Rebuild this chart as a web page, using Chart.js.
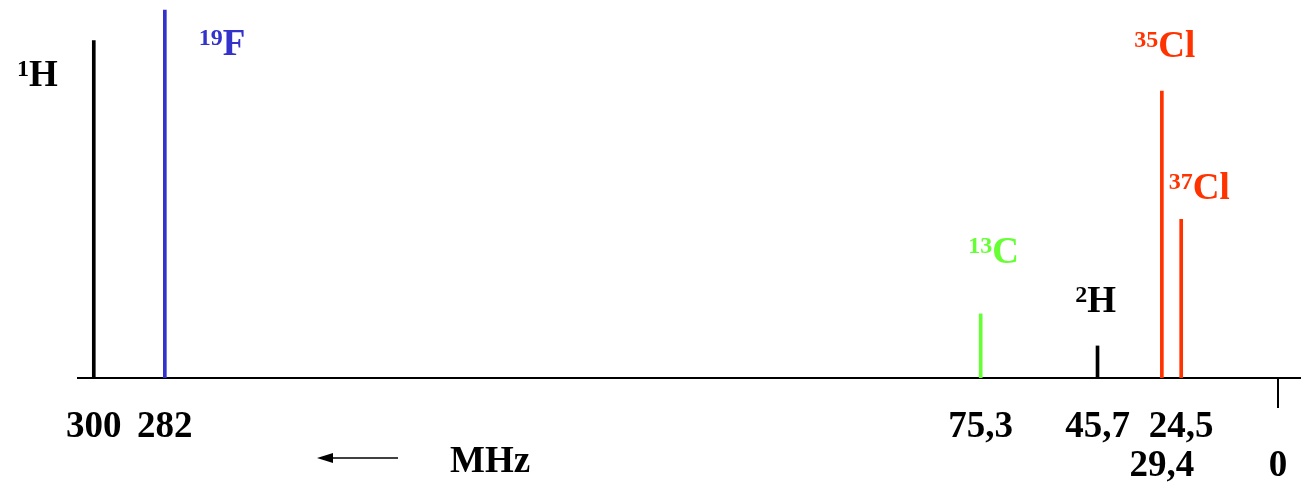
<!DOCTYPE html>
<html>
<head>
<meta charset="utf-8">
<title>NMR frequencies</title>
<script src="https://cdn.jsdelivr.net/npm/chart.js@4"></script>
<style>
    html, body { margin: 0; padding: 0; background: #fff; }
    #wrap { width: 1302px; height: 496px; position: relative; }
</style>
</head>
<body>
<div id="wrap"><canvas id="nmrChart"></canvas></div>
<script>
// Nuclei (mass number + element symbol)
const massNumbers = ['1', '19', '13', '2', '35', '37'];
const symbols = ['H', 'F', 'C', 'H', 'Cl', 'Cl'];
// Resonance frequency in MHz (for a 300 MHz 1H spectrometer)
const frequencies = [300, 282, 75.3, 45.7, 29.4, 24.5];
// Relative line height as drawn
const relHeights = [100, 109, 19, 9.5, 85, 47];
// Tick labels on the axis
const tickValues = [300, 282, 75.3, 45.7, 24.5, 29.4, 0];
const lowerTicks = [29.4, 0];

// Colours for each nucleus
const nucleusColors = ['#000000', '#3333cc', '#66ff33', '#000000', '#ff3300', '#ff3300'];
// Label placement relative to the top of each line: [dx, dy, align]
const labelPlacement = [
    [-36, 45, 'right'],
    [34, 45, 'left'],
    [13, -51, 'center'],
    [-2, -34, 'center'],
    [3, -34, 'center'],
    [18, -20, 'center']
];

const SERIF = '"Liberation Serif", "Times New Roman", serif';

function drawIsotope(ctx, mass, sym, x, y, align, color) {
    const supFont = 'bold 24px ' + SERIF;
    const mainFont = 'bold 37px ' + SERIF;
    ctx.font = supFont;
    const wSup = ctx.measureText(mass).width;
    ctx.font = mainFont;
    const wMain = ctx.measureText(sym).width;
    const total = wSup + wMain;
    let left = x;
    if (align === 'center') left = x - total / 2;
    if (align === 'right') left = x - total;
    ctx.fillStyle = color;
    ctx.textBaseline = 'alphabetic';
    ctx.textAlign = 'left';
    ctx.font = supFont;
    ctx.fillText(mass, left, y - 10);
    ctx.font = mainFont;
    ctx.fillText(sym, left + wSup, y);
}

// Draws nucleus labels, the arrow and the MHz unit
const annotationPlugin = {
    id: 'nmrAnnotations',
    afterDatasetsDraw(chart) {
        const ctx = chart.ctx;
        const meta = chart.getDatasetMeta(0);
        ctx.save();
        meta.data.forEach((bar, i) => {
            const p = labelPlacement[i];
            drawIsotope(ctx, massNumbers[i], symbols[i], bar.x + p[0], bar.y + p[1], p[2], nucleusColors[i]);
        });

        // arrow pointing to higher frequency
        const area = chart.chartArea;
        const ay = area.bottom + 80;
        ctx.strokeStyle = '#000';
        ctx.fillStyle = '#000';
        ctx.lineWidth = 1.5;
        ctx.beginPath();
        ctx.moveTo(330, ay);
        ctx.lineTo(398, ay);
        ctx.stroke();
        ctx.beginPath();
        ctx.moveTo(317, ay);
        ctx.lineTo(333, ay - 5);
        ctx.lineTo(333, ay + 5);
        ctx.closePath();
        ctx.fill();

        ctx.font = 'bold 37px ' + SERIF;
        ctx.textAlign = 'left';
        ctx.textBaseline = 'alphabetic';
        ctx.fillText('MHz', 450, area.bottom + 94);
        ctx.restore();
    }
};

function initNmrChart() {
    const ctx = document.getElementById('nmrChart').getContext('2d');

    const points = frequencies.map((f, i) => ({ x: f, y: relHeights[i] }));

    new Chart(ctx, {
        type: 'bar',
        data: {
            datasets: [{
                data: points,
                backgroundColor: nucleusColors,
                borderWidth: 0,
                barThickness: 3
            }]
        },
        options: {
            responsive: true,
            maintainAspectRatio: false,
            animation: false,
            layout: {
                padding: { left: 78, right: 2, top: 0, bottom: 0 }
            },
            plugins: {
                legend: { display: false },
                tooltip: { enabled: false }
            },
            scales: {
                x: {
                    type: 'linear',
                    reverse: true,
                    offset: false,
                    min: -5.6,
                    max: 304,
                    afterBuildTicks: function(scale) {
                        scale.ticks = tickValues.map(v => ({ value: v }));
                    },
                    afterFit: function(scale) {
                        scale.height = 118;
                    },
                    border: {
                        display: true,
                        color: '#000',
                        width: 2
                    },
                    grid: {
                        offset: false,
                        drawOnChartArea: false,
                        drawTicks: true,
                        tickLength: 30,
                        lineWidth: 2,
                        color: function(c) {
                            return c.tick && c.tick.value === 0 ? '#000' : 'rgba(0,0,0,0)';
                        }
                    },
                    ticks: {
                        autoSkip: false,
                        maxRotation: 0,
                        padding: 0,
                        color: '#000',
                        font: { family: SERIF, size: 37, weight: 'bold', lineHeight: 1.05 },
                        callback: function(value) {
                            const label = String(value).replace('.', ',');
                            return lowerTicks.includes(value) ? ['', label] : label;
                        }
                    }
                },
                y: {
                    display: false,
                    min: 0,
                    max: 112
                }
            }
        },
        plugins: [annotationPlugin]
    });
}

document.addEventListener('DOMContentLoaded', function() {
    initNmrChart();
});
</script>
</body>
</html>
